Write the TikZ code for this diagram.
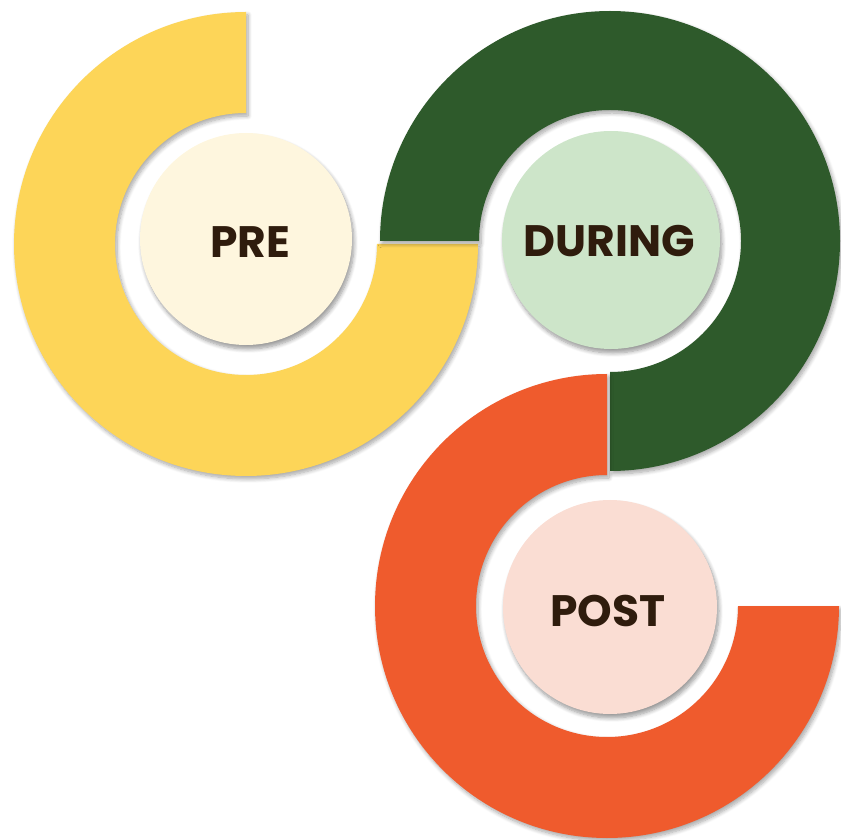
\documentclass[tikz,border=0pt]{standalone}
\usepackage{fontspec}
\setmainfont{Poppins}[UprightFont=* Bold]
\usetikzlibrary{shadows.blur}
\definecolor{ringY}{HTML}{FDD558}
\definecolor{ringG}{HTML}{2E5A2B}
\definecolor{ringO}{HTML}{EF5B2D}
\definecolor{discY}{HTML}{FEF6DE}
\definecolor{discG}{HTML}{CDE5C9}
\definecolor{discO}{HTML}{FADDD3}
\definecolor{txt}{HTML}{2F1C0D}
\tikzset{
  ringshadow/.style={blur shadow={shadow xshift=2pt, shadow yshift=-3pt, shadow blur steps=8, shadow blur radius=4pt, shadow opacity=35}},
  disc/.style={circle, inner sep=0pt, minimum size=#1, blur shadow={shadow xshift=2pt, shadow yshift=-4pt, shadow blur steps=8, shadow blur radius=4pt, shadow opacity=40}},
  label/.style={font=\fontsize{44}{48}\selectfont, text=txt, inner sep=0pt}
}
\begin{document}
\begin{tikzpicture}[x=1pt,y=1pt]
\useasboundingbox (0,0) rectangle (841,839);
% yellow ring
\coordinate (cy) at (246,595);
\fill[ringY, ringshadow] ($(cy)+(90:232)$) arc[start angle=90, end angle=360, radius=232] -- ($(cy)+(0:131)$) arc[start angle=360, end angle=90, radius=131] -- cycle;
% green ring
\coordinate (cg) at (610,598);
\fill[ringG, ringshadow] ($(cg)+(-90:230)$) arc[start angle=-90, end angle=180, radius=230] -- ($(cg)+(180:131)$) arc[start angle=180, end angle=-90, radius=131] -- cycle;
% orange ring
\coordinate (co) at (607,233);
\fill[ringO, ringshadow] ($(co)+(90:232)$) arc[start angle=90, end angle=360, radius=232] -- ($(co)+(0:131)$) arc[start angle=360, end angle=90, radius=131] -- cycle;
% discs
\node[disc=212pt, fill=discY] (pre) at (246,600) {};
\node[disc=218pt, fill=discG] (during) at (611,599) {};
\node[disc=214pt, fill=discO] (post) at (610,232) {};
\node[label] (tpre) at (250,597) {PRE};
\node[label] (tduring) at (609,598) {DURING};
\node[label] (tpost) at (608,228) {POST};
\end{tikzpicture}
\end{document}
